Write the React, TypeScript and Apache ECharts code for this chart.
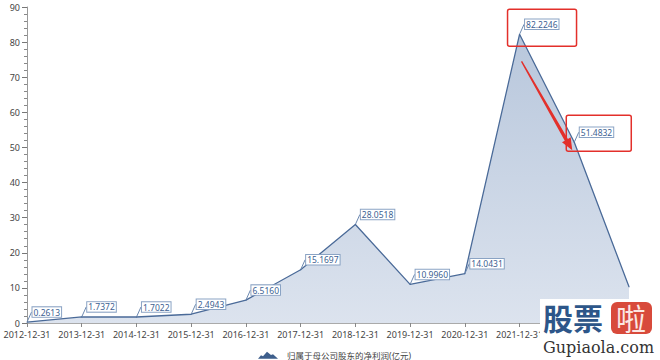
import React, { useEffect, useRef } from 'react';
import * as echarts from 'echarts';

const categories = [
  '2012-12-31', '2013-12-31', '2014-12-31', '2015-12-31', '2016-12-31', '2017-12-31',
  '2018-12-31', '2019-12-31', '2020-12-31', '2021-12-31', '2022-12-31', '2023-03-31',
];
const netProfit = [0.2613, 1.7372, 1.7022, 2.4943, 6.516, 15.1697, 28.0518, 10.996, 14.0431, 82.2246, 51.4832, 10.3];
// labels covered by the watermark in the reference
const coveredIndex = [10, 11];
const hiddenLabelIndex = [11];
const highlightIndex = [9, 10];
const seriesName = '归属于母公司股东的净利润(亿元)';
const yMin = 0;
const yMax = 90;
const yInterval = 10;

const FONT = "'Noto Sans', 'Noto Sans CJK SC', sans-serif";
const CJK = "'Noto Sans CJK SC', sans-serif";
const LINE = '#4a6a98';
const RED = '#e3302b';

export default function App() {
  const ref = useRef<HTMLDivElement>(null);
  useEffect(() => {
    document.body.style.margin = '0';
    if (!ref.current) return;
    const chart = echarts.init(ref.current, undefined, { renderer: 'svg' });
    const data = netProfit.map((v, i) =>
      hiddenLabelIndex.includes(i)
        ? { value: v, label: { show: false }, labelLine: { show: false } }
        : { value: v }
    );
    chart.setOption({
      animation: false,
      textStyle: { fontFamily: FONT },
      grid: { left: 27, right: 31, top: 7, bottom: 37 },
      legend: {
        left: 253,
        top: 346,
        itemWidth: 20,
        itemHeight: 7,
        itemGap: 10,
        data: [{
          name: seriesName,
          icon: 'path://M0,7 L3,3.5 L5,4.5 L9,0 L13,3.2 L15,2.6 L20,7 Z',
          itemStyle: { color: '#3e5f8c' },
        }],
        textStyle: { fontSize: 8.5, color: '#444', fontFamily: FONT, padding: [0, 0, 0, 4] },
      },
      xAxis: {
        type: 'category',
        data: categories,
        boundaryGap: false,
        axisLine: { show: true, lineStyle: { color: '#aaa' } },
        axisTick: { show: true, alignWithLabel: true, length: 4, lineStyle: { color: '#888' } },
        axisLabel: {
          fontSize: 9, color: '#444', margin: 7, interval: 0, fontFamily: FONT,
          formatter: (v: string, i: number) => (coveredIndex.includes(i) ? '' : v),
        },
        splitLine: { show: false },
      },
      yAxis: {
        type: 'value',
        min: yMin,
        max: yMax,
        interval: yInterval,
        axisLine: { show: true, lineStyle: { color: '#999' } },
        axisTick: { show: true, length: 5, lineStyle: { color: '#777' } },
        minorTick: { show: true, splitNumber: 5, length: 3, lineStyle: { color: '#888' } },
        axisLabel: { fontSize: 9, color: '#444', margin: 7, fontFamily: FONT },
        splitLine: { show: false },
      },
      series: [
        {
          name: seriesName,
          type: 'line',
          data,
          symbol: 'circle',
          symbolSize: 1,
          showSymbol: true,
          itemStyle: { color: LINE },
          lineStyle: { color: LINE, width: 1.3 },
          areaStyle: {
            color: new echarts.graphic.LinearGradient(0, 0, 0, 1, [
              { offset: 0, color: '#b8c7dc' },
              { offset: 1, color: '#dce3ee' },
            ]),
            opacity: 1,
          },
          label: {
            show: true,
            position: 'right',
            distance: 5,
            fontSize: 8.5,
            color: '#3d5f92',
            backgroundColor: '#fff',
            borderColor: '#8aa3c4',
            borderWidth: 1,
            padding: [1, 1, 0, 1],
            fontFamily: FONT,
            formatter: (p: any) => Number(p.value).toFixed(4),
          },
          labelLayout: { dy: -10 },
          labelLine: { show: true, lineStyle: { color: '#6d89b0', width: 1 } },
        },
      ],
    });

    const p1 = chart.convertToPixel({ seriesIndex: 0 }, [highlightIndex[0], netProfit[highlightIndex[0]]]) as number[];
    const p2 = chart.convertToPixel({ seriesIndex: 0 }, [highlightIndex[1], netProfit[highlightIndex[1]]]) as number[];

    const sx = p1[0] + 2, sy = p1[1] + 27;
    const tx = p2[0] - 2, ty = p2[1] + 8;
    const dxv = tx - sx, dyv = ty - sy;
    const len = Math.sqrt(dxv * dxv + dyv * dyv);
    const ux = dxv / len, uy = dyv / len;
    const px = -uy, py = ux;
    const headLen = 12, headW = 5;
    const bx = tx - ux * headLen, by = ty - uy * headLen;
    const arrowPts = [
      [sx + px * 0.7, sy + py * 0.7],
      [bx + px * 1.8, by + py * 1.8],
      [bx + px * headW, by + py * headW],
      [tx, ty],
      [bx - px * headW, by - py * headW],
      [bx - px * 1.8, by - py * 1.8],
      [sx - px * 0.7, sy - py * 0.7],
    ];

    chart.setOption({
      graphic: [
        {
          type: 'rect', z: 100,
          shape: { x: p1[0] - 12, y: p1[1] - 25, width: 69, height: 37, r: 2 },
          style: { fill: 'none', stroke: RED, lineWidth: 1.5 },
        },
        {
          type: 'rect', z: 100,
          shape: { x: p2[0] - 8, y: p2[1] - 27, width: 65, height: 36, r: 2 },
          style: { fill: 'none', stroke: RED, lineWidth: 1.5 },
        },
        { type: 'polygon', z: 100, shape: { points: arrowPts }, style: { fill: RED } },
        { type: 'rect', z: 200, shape: { x: 540, y: 299, width: 120, height: 61 }, style: { fill: '#ffffff' } },
        {
          type: 'text', z: 201, x: 543, y: 301,
          style: { text: '股票', fontSize: 30, fontWeight: 'bold', fill: '#2d5689', fontFamily: CJK, verticalAlign: 'top', lineHeight: 32 },
        },
        { type: 'rect', z: 201, shape: { x: 611, y: 302, width: 41, height: 32, r: 6 }, style: { fill: '#d84a3b' } },
        {
          type: 'text', z: 202, x: 616, y: 301,
          style: { text: '啦', fontSize: 30, fill: '#fbe7e3', fontFamily: CJK, verticalAlign: 'top', lineHeight: 32 },
        },
        {
          type: 'text', z: 201, x: 543, y: 339,
          style: { text: 'Gupiaola.com', fontSize: 16, fill: '#333', fontFamily: "'DejaVu Serif', serif", verticalAlign: 'top' },
        },
      ],
    });

    return () => chart.dispose();
  }, []);
  return <div ref={ref} style={{ width: 660, height: 360 }} />;
}
